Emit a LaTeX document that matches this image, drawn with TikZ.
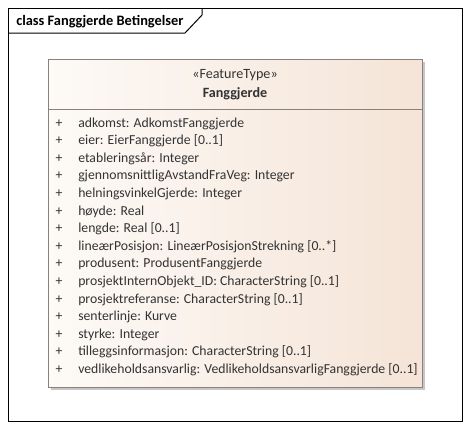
\documentclass[tikz,border=0pt]{standalone}
\usepackage{fontspec}
\setmainfont{Carlito}
\usetikzlibrary{positioning}
\definecolor{eaborder}{HTML}{8A817C}
\definecolor{eafilll}{HTML}{FDFAF7}
\definecolor{eafillr}{HTML}{F5E4D7}
\definecolor{eatext}{HTML}{333333}
\tikzset{
    diagframe/.style = {draw=black, line width=0.75pt},
    classbox/.style = {draw=eaborder, line width=0.75pt, left color=eafilll, right color=eafillr},
    classshadow/.style = {fill=black!22, draw=none},
    frametitle/.style = {anchor=base west, inner sep=0pt, font=\fontsize{10.8}{13}\bfseries, text=black},
    stereo/.style = {anchor=base, inner sep=0pt, font=\fontsize{10.6}{12}\selectfont, text=eatext},
    classname/.style = {anchor=base, inner sep=0pt, font=\fontsize{10.6}{12}\bfseries, text=eatext},
    attr/.style = {anchor=base west, inner sep=0pt, font=\fontsize{10.3}{12}\selectfont, text=eatext},
    vis/.style = {anchor=base, inner sep=0pt, font=\fontsize{10.3}{12}\selectfont, text=eatext}
}

\begin{document}
\begin{tikzpicture}[x=0.75pt,y=-0.75pt]
\useasboundingbox (0,0) rectangle (471,430);
\fill[white] (0,0) rectangle (471,430);
% frame
\draw[diagframe] (8,8) rectangle (462,421);
\draw[diagframe] (8,33) -- (185,33) -- (202,15) -- (202,8);
\node[frametitle] at ( 16.00,  25.00) (title) {class Fanggjerde Betingelser};
% class
\fill[classshadow] (51,62) rectangle (425,390);
\draw[classbox] (48,59) rectangle (422,387);
\draw[classbox] (48,59) rectangle (422,109);
\node[stereo] at (235.00,  78.00) (stype) {«FeatureType»};
\node[classname] at (235.00,  97.00) (cname) {Fanggjerde};
% attributes
\node[vis] at ( 59.00, 127.00) (v1) {+};
\node[attr] at ( 78.00, 127.00) (a1) {adkomst: AdkomstFanggjerde};
\node[vis] at ( 59.00, 144.60) (v2) {+};
\node[attr] at ( 78.00, 144.60) (a2) {eier: EierFanggjerde [0..1]};
\node[vis] at ( 59.00, 162.20) (v3) {+};
\node[attr] at ( 78.00, 162.20) (a3) {etableringsår: Integer};
\node[vis] at ( 59.00, 179.80) (v4) {+};
\node[attr] at ( 78.00, 179.80) (a4) {gjennomsnittligAvstandFraVeg: Integer};
\node[vis] at ( 59.00, 197.40) (v5) {+};
\node[attr] at ( 78.00, 197.40) (a5) {helningsvinkelGjerde: Integer};
\node[vis] at ( 59.00, 215.00) (v6) {+};
\node[attr] at ( 78.00, 215.00) (a6) {høyde: Real};
\node[vis] at ( 59.00, 232.60) (v7) {+};
\node[attr] at ( 78.00, 232.60) (a7) {lengde: Real [0..1]};
\node[vis] at ( 59.00, 250.20) (v8) {+};
\node[attr] at ( 78.00, 250.20) (a8) {lineærPosisjon: LineærPosisjonStrekning [0..*]};
\node[vis] at ( 59.00, 267.80) (v9) {+};
\node[attr] at ( 78.00, 267.80) (a9) {produsent: ProdusentFanggjerde};
\node[vis] at ( 59.00, 285.40) (v10) {+};
\node[attr] at ( 78.00, 285.40) (a10) {prosjektInternObjekt\_ID: CharacterString [0..1]};
\node[vis] at ( 59.00, 303.00) (v11) {+};
\node[attr] at ( 78.00, 303.00) (a11) {prosjektreferanse: CharacterString [0..1]};
\node[vis] at ( 59.00, 320.60) (v12) {+};
\node[attr] at ( 78.00, 320.60) (a12) {senterlinje: Kurve};
\node[vis] at ( 59.00, 338.20) (v13) {+};
\node[attr] at ( 78.00, 338.20) (a13) {styrke: Integer};
\node[vis] at ( 59.00, 355.80) (v14) {+};
\node[attr] at ( 78.00, 355.80) (a14) {tilleggsinformasjon: CharacterString [0..1]};
\node[vis] at ( 59.00, 373.40) (v15) {+};
\node[attr] at ( 78.00, 373.40) (a15) {vedlikeholdsansvarlig: VedlikeholdsansvarligFanggjerde [0..1]};
\end{tikzpicture}
\end{document}
